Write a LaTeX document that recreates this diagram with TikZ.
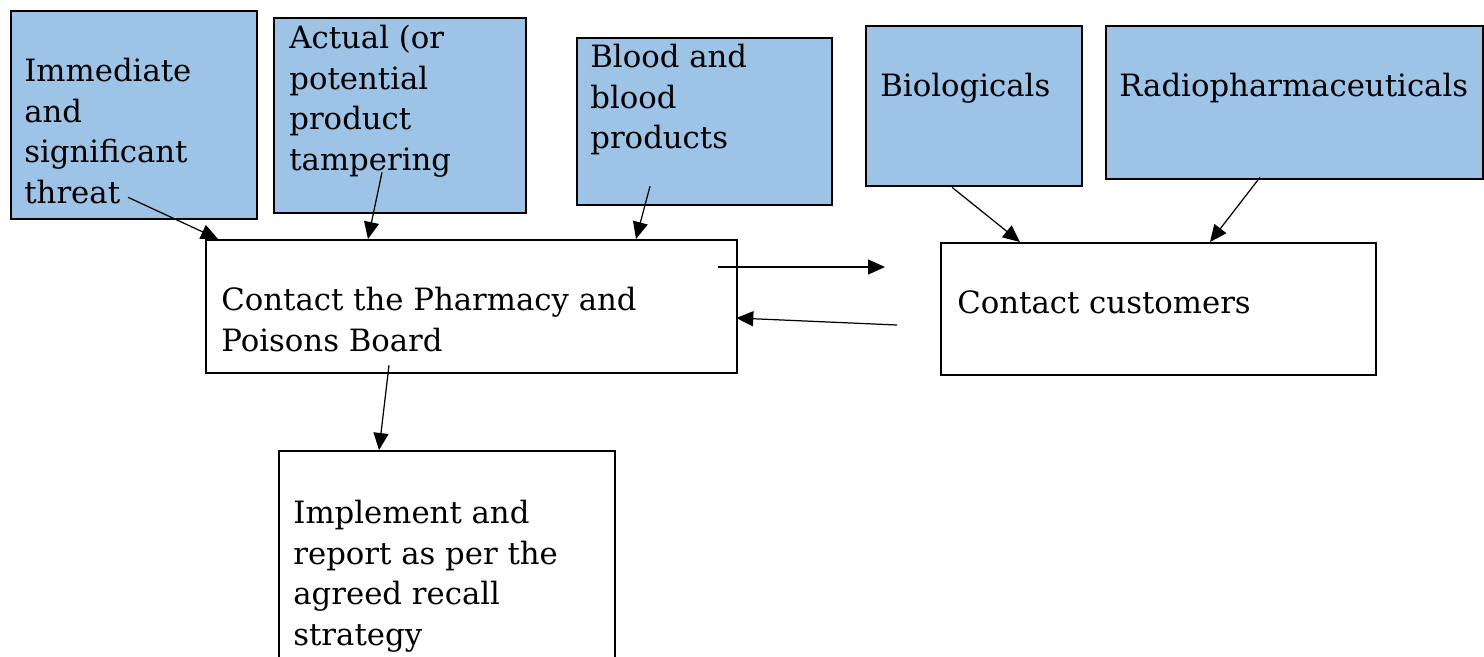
\documentclass[tikz,border=0pt]{standalone}
\usepackage{fontspec}
\setmainfont{DejaVu Serif}
\usetikzlibrary{arrows.meta}
\definecolor{boxblue}{RGB}{157,195,230}

\begin{document}
\begin{tikzpicture}[
    bluebox/.style={draw, line width=1.3pt, fill=boxblue, anchor=north west, inner sep=0pt},
    whitebox/.style={draw, line width=1.3pt, fill=white, anchor=north west, inner sep=0pt},
    boxtext/.style={anchor=north west, inner sep=0pt, align=left, font=\fontsize{17.5}{23.2}\selectfont},
    arr/.style={-{Triangle[length=0.34cm,width=0.3cm]}, line width=0.7pt}
]
    \useasboundingbox (0,0) rectangle (29.68,-13.12);

    % source boxes
    \node[bluebox, minimum width=4.92cm, minimum height=4.16cm] (imm) at (0.2,-0.2) {};
    \node[boxtext] (immtxt) at ([shift={(0.28,-0.85)}]imm.north west) {\strut Immediate\\and\\significant\\threat};
    \node[bluebox, minimum width=5.04cm, minimum height=3.9cm] (tamp) at (5.46,-0.34) {};
    \node[boxtext] (tamptxt) at ([shift={(0.32,-0.05)}]tamp.north west) {\strut Actual (or\\potential\\product\\tampering};
    \node[bluebox, minimum width=5.1cm, minimum height=3.34cm] (blood) at (11.52,-0.74) {};
    \node[boxtext] (bloodtxt) at ([shift={(0.28,-0.03)}]blood.north west) {\strut Blood and\\blood\\products};
    \node[bluebox, minimum width=4.32cm, minimum height=3.2cm] (bio) at (17.3,-0.5) {};
    \node[boxtext] (biotxt) at ([shift={(0.3,-0.85)}]bio.north west) {\strut Biologicals};
    \node[bluebox, minimum width=7.54cm, minimum height=3.06cm] (radio) at (22.1,-0.5) {};
    \node[boxtext] (radiotxt) at ([shift={(0.28,-0.85)}]radio.north west) {\strut Radiopharmaceuticals};

    % action boxes
    \node[whitebox, minimum width=10.62cm, minimum height=2.66cm] (ppb) at (4.1,-4.78) {};
    \node[boxtext] (ppbtxt) at ([shift={(0.32,-0.85)}]ppb.north west) {\strut Contact the Pharmacy and\\Poisons Board};
    \node[whitebox, minimum width=8.7cm, minimum height=2.64cm] (cust) at (18.8,-4.84) {};
    \node[boxtext] (custtxt) at ([shift={(0.34,-0.85)}]cust.north west) {\strut Contact customers};
    \node[whitebox, minimum width=6.72cm, minimum height=4.4cm] (impl) at (5.56,-9.0) {};
    \node[boxtext] (impltxt) at ([shift={(0.3,-0.89)}]impl.north west) {\strut Implement and\\report as per the\\agreed recall\\strategy};

    % connectors
    \draw[arr] ([shift={(2.36,0.46)}]imm.south west) -- ([xshift=0.26cm]ppb.north west);
    \draw[arr] ([shift={(2.18,0.84)}]tamp.south west) -- ([xshift=3.26cm]ppb.north west);
    \draw[arr] ([shift={(1.48,0.4)}]blood.south west) -- ([xshift=8.62cm]ppb.north west);
    \draw[arr] ([xshift=1.74cm]bio.south west) -- ([xshift=1.6cm]cust.north west);
    \draw[arr] ([shift={(3.1,0.06)}]radio.south west) -- ([xshift=5.4cm]cust.north west);
    \draw[arr] ([shift={(-0.4,-0.56)}]ppb.north east) -- ([shift={(-1.1,-0.5)}]cust.north west);
    \draw[arr] ([shift={(-0.86,-1.66)}]cust.north west) -- ([shift={(-0.04,-1.58)}]ppb.north east);
    \draw[arr] ([shift={(3.68,0.18)}]ppb.south west) -- ([xshift=2.02cm]impl.north west);
\end{tikzpicture}
\end{document}
